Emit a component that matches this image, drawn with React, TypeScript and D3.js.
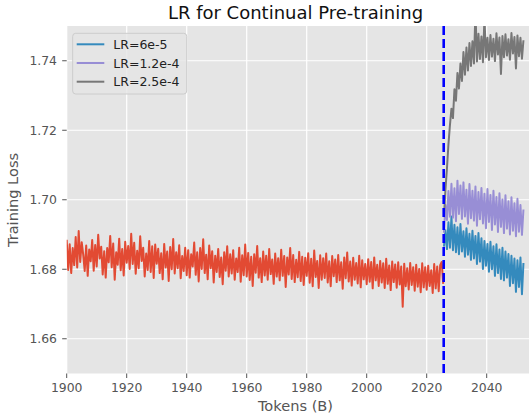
import React, { useEffect, useRef } from 'react';
import * as d3 from 'd3';

// token axis (billions), sampled every half billion
const baseStart = 1900;
const contStart = 2025.75;
const tokenStep = 0.5;
const switchPoint = 2025.67;

// pre-training loss before the switch
const baseLoss = [
  1.6885, 1.6798, 1.6872, 1.6789, 1.6861, 1.6812, 1.6893, 1.6805, 1.6910, 1.6821,
  1.6878, 1.6842, 1.6795, 1.6868, 1.6781, 1.6857, 1.6823, 1.6884, 1.6796, 1.6870,
  1.6808, 1.6899, 1.6831, 1.6865, 1.6785, 1.6852, 1.6776, 1.6861, 1.6820, 1.6896,
  1.6806, 1.6874, 1.6770, 1.6849, 1.6813, 1.6888, 1.6797, 1.6858, 1.6782, 1.6879,
  1.6819, 1.6867, 1.6801, 1.6902, 1.6815, 1.6876, 1.6787, 1.6853, 1.6803, 1.6895,
  1.6824, 1.6862, 1.6779, 1.6845, 1.6798, 1.6881, 1.6792, 1.6866, 1.6775, 1.6871,
  1.6816, 1.6859, 1.6789, 1.6846, 1.6771, 1.6873, 1.6805, 1.6851, 1.6766, 1.6864,
  1.6800, 1.6887, 1.6788, 1.6849, 1.6803, 1.6869, 1.6774, 1.6838, 1.6795, 1.6862,
  1.6783, 1.6855, 1.6776, 1.6843, 1.6808, 1.6877, 1.6784, 1.6849, 1.6765, 1.6861,
  1.6801, 1.6886, 1.6789, 1.6842, 1.6771, 1.6868, 1.6803, 1.6852, 1.6762, 1.6839,
  1.6792, 1.6858, 1.6778, 1.6834, 1.6757, 1.6849, 1.6796, 1.6866, 1.6779, 1.6843,
  1.6788, 1.6855, 1.6770, 1.6831, 1.6792, 1.6862, 1.6764, 1.6840, 1.6783, 1.6871,
  1.6779, 1.6847, 1.6769, 1.6836, 1.6752, 1.6843, 1.6790, 1.6867, 1.6776, 1.6832,
  1.6763, 1.6851, 1.6782, 1.6839, 1.6770, 1.6858, 1.6786, 1.6828, 1.6758, 1.6845,
  1.6779, 1.6832, 1.6768, 1.6856, 1.6781, 1.6838, 1.6749, 1.6834, 1.6785, 1.6861,
  1.6772, 1.6841, 1.6763, 1.6827, 1.6777, 1.6850, 1.6766, 1.6836, 1.6755, 1.6833,
  1.6781, 1.6846, 1.6761, 1.6830, 1.6751, 1.6854, 1.6778, 1.6824, 1.6746, 1.6840,
  1.6770, 1.6832, 1.6775, 1.6845, 1.6762, 1.6823, 1.6751, 1.6838, 1.6780, 1.6828,
  1.6763, 1.6841, 1.6768, 1.6820, 1.6744, 1.6834, 1.6774, 1.6848, 1.6765, 1.6822,
  1.6753, 1.6833, 1.6770, 1.6818, 1.6759, 1.6839, 1.6748, 1.6826, 1.6771, 1.6815,
  1.6757, 1.6829, 1.6764, 1.6821, 1.6745, 1.6834, 1.6768, 1.6813, 1.6752, 1.6824,
  1.6762, 1.6817, 1.6746, 1.6830, 1.6758, 1.6811, 1.6740, 1.6822, 1.6763, 1.6814,
  1.6747, 1.6820, 1.6756, 1.6808, 1.6692, 1.6816, 1.6751, 1.6803, 1.6742, 1.6818,
  1.6755, 1.6806, 1.6738, 1.6813, 1.6750, 1.6801, 1.6734, 1.6817, 1.6748, 1.6806,
  1.6741, 1.6810, 1.6752, 1.6797, 1.6732, 1.6815, 1.6745, 1.6808, 1.6737, 1.6812,
  1.6821, 1.6758,
];

// continual pre-training runs
const loss6e5 = [
  1.6865, 1.6912, 1.6858, 1.6935, 1.6862, 1.6952, 1.6855, 1.6928, 1.6849, 1.6921,
  1.6843, 1.6930, 1.6851, 1.6909, 1.6836, 1.6918, 1.6842, 1.6902, 1.6827, 1.6911,
  1.6831, 1.6896, 1.6815, 1.6904, 1.6822, 1.6889, 1.6801, 1.6881, 1.6810, 1.6873,
  1.6793, 1.6879, 1.6800, 1.6866, 1.6781, 1.6872, 1.6789, 1.6857, 1.6772, 1.6862,
  1.6768, 1.6851, 1.6776, 1.6844, 1.6752, 1.6839, 1.6760, 1.6831, 1.6735, 1.6826,
  1.6749, 1.6834, 1.6728, 1.6818,
];

const loss12e4 = [
  1.6905, 1.6985, 1.6942, 1.7025, 1.6951, 1.7046, 1.6948, 1.7033, 1.6938, 1.7055,
  1.6959, 1.7041, 1.6945, 1.7050, 1.6952, 1.7029, 1.6931, 1.7045, 1.6947, 1.7026,
  1.6940, 1.7038, 1.6925, 1.7022, 1.6944, 1.7034, 1.6932, 1.7017, 1.6918, 1.7031,
  1.6936, 1.7014, 1.6913, 1.7026, 1.6929, 1.7008, 1.6907, 1.7019, 1.6922, 1.7001,
  1.6904, 1.7013, 1.6917, 1.6996, 1.6900, 1.7007, 1.6911, 1.6990, 1.6895, 1.7003,
  1.6908, 1.6985, 1.6899, 1.6972,
];

const loss25e4 = [
  1.6950, 1.7030, 1.7090, 1.7160, 1.7215, 1.7262, 1.7235, 1.7318, 1.7285, 1.7365,
  1.7320, 1.7392, 1.7342, 1.7425, 1.7360, 1.7438, 1.7372, 1.7451, 1.7385, 1.7456,
  1.7392, 1.7545, 1.7398, 1.7478, 1.7405, 1.7470, 1.7396, 1.7525, 1.7410, 1.7466,
  1.7402, 1.7474, 1.7412, 1.7463, 1.7399, 1.7479, 1.7418, 1.7467, 1.7362, 1.7471,
  1.7410, 1.7476, 1.7415, 1.7462, 1.7403, 1.7480, 1.7421, 1.7468, 1.7378, 1.7473,
  1.7413, 1.7466, 1.7406, 1.7459,
];

const legendLabels = ['LR=6e-5', 'LR=1.2e-4', 'LR=2.5e-4'];
const xTicks = [1900, 1920, 1940, 1960, 1980, 2000, 2020, 2040];
const yTicks = [1.66, 1.68, 1.70, 1.72, 1.74];

const App = () => {
  const ref = useRef<SVGSVGElement | null>(null);

  useEffect(() => {
    const width = 529;
    const height = 417;
    const left = 66.7;
    const right = 529;
    const top = 26;
    const bottom = 373.5;
    const font = 'DejaVu Sans, sans-serif';

    const svg = d3.select(ref.current);
    svg.selectAll('*').remove();
    svg.attr('width', width).attr('height', height);

    const x = d3.scaleLinear().domain([1900, 2054.1]).range([left, right]);
    const y = d3.scaleLinear().domain([1.65, 1.75]).range([bottom, top]);

    // background
    svg.append('rect')
      .attr('x', left).attr('y', top)
      .attr('width', right - left).attr('height', bottom - top)
      .attr('fill', '#E5E5E5');

    // grid
    svg.append('g').selectAll('line').data(xTicks).join('line')
      .attr('x1', d => x(d)).attr('x2', d => x(d))
      .attr('y1', top).attr('y2', bottom)
      .attr('stroke', '#fff').attr('stroke-width', 1.2);
    svg.append('g').selectAll('line').data(yTicks).join('line')
      .attr('x1', left).attr('x2', right)
      .attr('y1', d => y(d)).attr('y2', d => y(d))
      .attr('stroke', '#fff').attr('stroke-width', 1.2);

    svg.append('clipPath').attr('id', 'plot-clip')
      .append('rect')
      .attr('x', left).attr('y', top)
      .attr('width', right - left).attr('height', bottom - top);

    const plot = svg.append('g').attr('clip-path', 'url(#plot-clip)');

    const series = [
      { values: baseLoss, start: baseStart, color: '#E24A33' },
      { values: loss6e5, start: contStart, color: '#348ABD' },
      { values: loss12e4, start: contStart, color: '#988ED5' },
      { values: loss25e4, start: contStart, color: '#777777' },
    ];

    series.forEach(s => {
      const line = d3.line<number>()
        .x((_, i) => x(s.start + i * tokenStep))
        .y(d => y(d));
      plot.append('path')
        .attr('d', line(s.values))
        .attr('fill', 'none')
        .attr('stroke', s.color)
        .attr('stroke-width', 2)
        .attr('stroke-linejoin', 'round');
    });

    // switch marker
    plot.append('line')
      .attr('x1', x(switchPoint)).attr('x2', x(switchPoint))
      .attr('y1', top).attr('y2', bottom)
      .attr('stroke', '#0000FF')
      .attr('stroke-width', 2.6)
      .attr('stroke-dasharray', '9,4');

    // ticks
    const xAxis = svg.append('g');
    xTicks.forEach(t => {
      xAxis.append('line')
        .attr('x1', x(t)).attr('x2', x(t))
        .attr('y1', bottom).attr('y2', bottom + 4.5)
        .attr('stroke', '#555').attr('stroke-width', 1);
      xAxis.append('text')
        .attr('x', x(t)).attr('y', 392)
        .attr('text-anchor', 'middle')
        .style('font-family', font).style('font-size', '12.4px')
        .attr('fill', '#555')
        .text(t);
    });

    const yAxis = svg.append('g');
    yTicks.forEach(t => {
      yAxis.append('line')
        .attr('x1', left - 4.5).attr('x2', left)
        .attr('y1', y(t)).attr('y2', y(t))
        .attr('stroke', '#555').attr('stroke-width', 1);
      yAxis.append('text')
        .attr('x', 57).attr('y', y(t) + 4.5)
        .attr('text-anchor', 'end')
        .style('font-family', font).style('font-size', '12.4px')
        .attr('fill', '#555')
        .text(t.toFixed(2));
    });

    // labels
    svg.append('text')
      .attr('x', 295.5).attr('y', 19)
      .attr('text-anchor', 'middle')
      .style('font-family', font).style('font-size', '18px')
      .attr('fill', '#111')
      .text('LR for Continual Pre-training');

    svg.append('text')
      .attr('x', 295.5).attr('y', 411)
      .attr('text-anchor', 'middle')
      .style('font-family', font).style('font-size', '14.6px')
      .attr('fill', '#555')
      .text('Tokens (B)');

    svg.append('text')
      .attr('transform', 'translate(18,200) rotate(-90)')
      .attr('text-anchor', 'middle')
      .style('font-family', font).style('font-size', '14.6px')
      .attr('fill', '#555')
      .text('Training Loss');

    // legend
    const legend = svg.append('g');
    legend.append('rect')
      .attr('x', 72.7).attr('y', 33.3)
      .attr('width', 114).attr('height', 60.7)
      .attr('rx', 3)
      .attr('fill', '#E5E5E5').attr('fill-opacity', 0.8)
      .attr('stroke', '#CCCCCC').attr('stroke-width', 1);

    const legendColors = series.slice(1).map(s => s.color);
    legendLabels.forEach((label, i) => {
      const ly = 44.3 + i * 18.7;
      legend.append('line')
        .attr('x1', 76.7).attr('x2', 104.3)
        .attr('y1', ly).attr('y2', ly)
        .attr('stroke', legendColors[i]).attr('stroke-width', 2);
      legend.append('text')
        .attr('x', 113.3).attr('y', ly + 4.5)
        .style('font-family', font).style('font-size', '12.5px')
        .attr('fill', '#222')
        .text(label);
    });
  }, []);

  return (
    <svg ref={ref} style={{ position: 'absolute', left: 0, top: 0, display: 'block' }} />
  );
};

export default App;
